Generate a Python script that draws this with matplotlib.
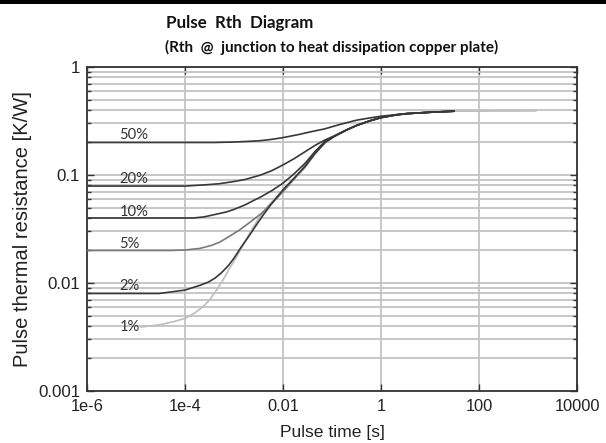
import matplotlib
matplotlib.use("Agg")
import matplotlib.pyplot as plt
import matplotlib.ticker as mticker
from matplotlib.patches import Rectangle

# ---- data ----
duty_labels = ["50%", "20%", "10%", "5%", "2%", "1%"]

t_50 = [1e-6, 1e-4, 4e-4, 1e-3, 2e-3, 3.5e-3, 6e-3, 1e-2, 2e-2, 3.5e-2, 7e-2, 0.15, 0.32, 0.6, 1, 2, 3.4, 10, 32]
r_50 = [0.2, 0.2, 0.2, 0.202, 0.205, 0.208, 0.214, 0.222, 0.236, 0.25, 0.267, 0.295, 0.322, 0.338, 0.35, 0.362, 0.371, 0.381, 0.39]

t_20 = [1e-6, 1e-4, 2.5e-4, 5e-4, 1e-3, 1.7e-3, 3.5e-3, 6e-3, 1e-2, 1.7e-2, 2.8e-2, 4.5e-2, 7.2e-2, 0.11, 0.2, 0.32, 0.6, 1, 2, 3.4, 10, 32]
r_20 = [0.079, 0.079, 0.081, 0.083, 0.087, 0.091, 0.1, 0.11, 0.124, 0.142, 0.164, 0.188, 0.211, 0.23, 0.262, 0.288, 0.318, 0.34, 0.36, 0.37, 0.381, 0.39]

t_10 = [1e-6, 1.5e-4, 2.5e-4, 4e-4, 7e-4, 1e-3, 1.7e-3, 2.5e-3, 3.6e-3, 6e-3, 1e-2, 1.7e-2, 2.8e-2, 4.5e-2, 7.2e-2, 0.11, 0.2, 0.32, 0.6, 1, 2, 3.4, 10, 32]
r_10 = [0.04, 0.04, 0.041, 0.043, 0.0455, 0.048, 0.053, 0.058, 0.063, 0.072, 0.084, 0.103, 0.128, 0.165, 0.205, 0.228, 0.262, 0.288, 0.318, 0.34, 0.36, 0.37, 0.381, 0.39]

t_5 = [1e-6, 5e-5, 1e-4, 2e-4, 3.5e-4, 5.2e-4, 8e-4, 1.3e-3, 2.2e-3, 3.6e-3, 6e-3, 1e-2, 1.7e-2, 2.8e-2, 4.5e-2, 7.2e-2, 0.11, 0.2, 0.32, 0.6, 1, 2, 3.4, 10, 32]
r_5 = [0.02, 0.02, 0.0202, 0.0209, 0.0223, 0.024, 0.027, 0.031, 0.037, 0.044, 0.055, 0.07, 0.092, 0.122, 0.16, 0.2, 0.227, 0.262, 0.288, 0.318, 0.34, 0.36, 0.37, 0.381, 0.39]

t_2 = [1e-6, 3e-5, 1e-4, 2e-4, 3e-4, 4.1e-4, 5.5e-4, 7.7e-4, 1e-3, 1.4e-3, 2e-3, 2.8e-3, 4e-3, 6e-3, 1e-2, 1.7e-2, 2.8e-2, 4.5e-2, 7.2e-2, 0.11, 0.2, 0.32, 0.6, 1, 2, 3.4, 10, 32]
r_2 = [0.008, 0.008, 0.0086, 0.0095, 0.0102, 0.0111, 0.0124, 0.0145, 0.017, 0.0215, 0.027, 0.034, 0.043, 0.055, 0.073, 0.094, 0.119, 0.158, 0.2, 0.227, 0.262, 0.288, 0.318, 0.34, 0.36, 0.37, 0.381, 0.39]

t_1 = [1.2e-5, 3e-5, 6e-5, 1e-4, 1.6e-4, 2.3e-4, 3.2e-4, 4.1e-4, 6e-4, 8e-4, 1.13e-3, 1.5e-3, 2e-3, 3e-3, 5e-3, 1e-2, 1.7e-2, 2.8e-2, 4.5e-2, 7.2e-2, 0.11, 0.2, 0.32, 0.6, 1, 2, 3.4, 10, 32, 1500]
r_1 = [0.0039, 0.0041, 0.0044, 0.0047, 0.0053, 0.006, 0.007, 0.0082, 0.0107, 0.0135, 0.0175, 0.022, 0.028, 0.038, 0.052, 0.072, 0.093, 0.117, 0.157, 0.198, 0.226, 0.26, 0.287, 0.317, 0.338, 0.358, 0.37, 0.381, 0.39, 0.392]

x_ticks = [1e-6, 1e-4, 1e-2, 1, 100, 1e4]
x_tick_labels = ["1e-6", "1e-4", "0.01", "1", "100", "10000"]
y_ticks = [0.001, 0.01, 0.1, 1]
y_tick_labels = ["0.001", "0.01", "0.1", "1"]

series = [
    (t_1, r_1, "#bdbdbd"),
    (t_5, r_5, "#7a7a7a"),
    (t_2, r_2, "#383838"),
    (t_10, r_10, "#383838"),
    (t_20, r_20, "#383838"),
    (t_50, r_50, "#383838"),
]
label_series = [(r_50, 1.18), (r_20, 1.17), (r_10, 1.14), (r_5, 1.14), (r_2, 1.17), (r_1, 1.0)]

# ---- figure ----
fig = plt.figure(figsize=(6.06, 4.43), dpi=100)
ax = fig.add_axes([87 / 606, 1 - 391 / 443, 490 / 606, 324 / 443])
ax.set_xscale("log")
ax.set_yscale("log")
ax.set_xlim(1e-6, 1e4)
ax.set_ylim(1e-3, 1)

for t, r, c in series:
    ax.plot(t, r, color=c, lw=1.2, solid_capstyle="butt", solid_joinstyle="round", zorder=3)

x_lab = 4.6e-6
for name, (r, f) in zip(duty_labels, label_series):
    ax.text(x_lab, r[0] * f, name, fontsize=10.6, family="Lato", color="#333333",
            ha="left", va="center", zorder=4)

# ticks and grid
ax.xaxis.set_major_locator(mticker.FixedLocator(x_ticks))
ax.xaxis.set_major_formatter(mticker.FixedFormatter(x_tick_labels))
ax.xaxis.set_minor_locator(mticker.NullLocator())
ax.yaxis.set_major_locator(mticker.FixedLocator(y_ticks))
ax.yaxis.set_major_formatter(mticker.FixedFormatter(y_tick_labels))
ax.yaxis.set_minor_locator(mticker.LogLocator(base=10, subs=range(2, 10)))
ax.yaxis.set_minor_formatter(mticker.NullFormatter())

ax.grid(True, which="major", axis="both", color="#c3c3c3", lw=1.3, zorder=0)
ax.grid(True, which="minor", axis="y", color="#c3c3c3", lw=1.3, zorder=0)
ax.set_axisbelow(True)

ax.tick_params(which="major", direction="in", top=True, right=True, length=5, width=1.0,
               color="#333333")
ax.tick_params(which="minor", direction="in", left=True, right=True, length=3, width=1.0,
               color="#333333")
ax.tick_params(axis="x", which="major", labelsize=11.8, pad=6)
ax.tick_params(axis="y", which="major", labelsize=12.2, pad=5)
for lab in ax.get_xticklabels() + ax.get_yticklabels():
    lab.set_family("Liberation Sans")
    lab.set_color("#222222")

for s in ax.spines.values():
    s.set_color("#333333")
    s.set_linewidth(1.3)

ax.set_xlabel("Pulse time [s]", fontsize=12.6, family="Liberation Sans", color="#222222")
ax.xaxis.set_label_coords(0.5, (391 - 425) / 324)
ax.set_ylabel("Pulse thermal resistance [K/W]", fontsize=14.5, family="Liberation Sans",
              color="#222222")
ax.yaxis.set_label_coords((32 - 87) / 490, 0.5)

# titles
fig.text(166 / 606, 1 - 28 / 443, "Pulse  Rth  Diagram", fontsize=12.2, fontweight="bold",
         family="Lato", ha="left", va="baseline", color="#111111")
fig.text(165 / 606, 1 - 52 / 443, "(Rth  @  junction to heat dissipation copper plate)",
         fontsize=11.0, fontweight="bold", family="Lato", ha="left", va="baseline",
         color="#111111")

# top black border bar
fig.patches.append(Rectangle((0, 1 - 3.5 / 443), 1, 3.5 / 443, transform=fig.transFigure,
                             facecolor="black", edgecolor="none"))

fig.savefig("out.png", dpi=100)
